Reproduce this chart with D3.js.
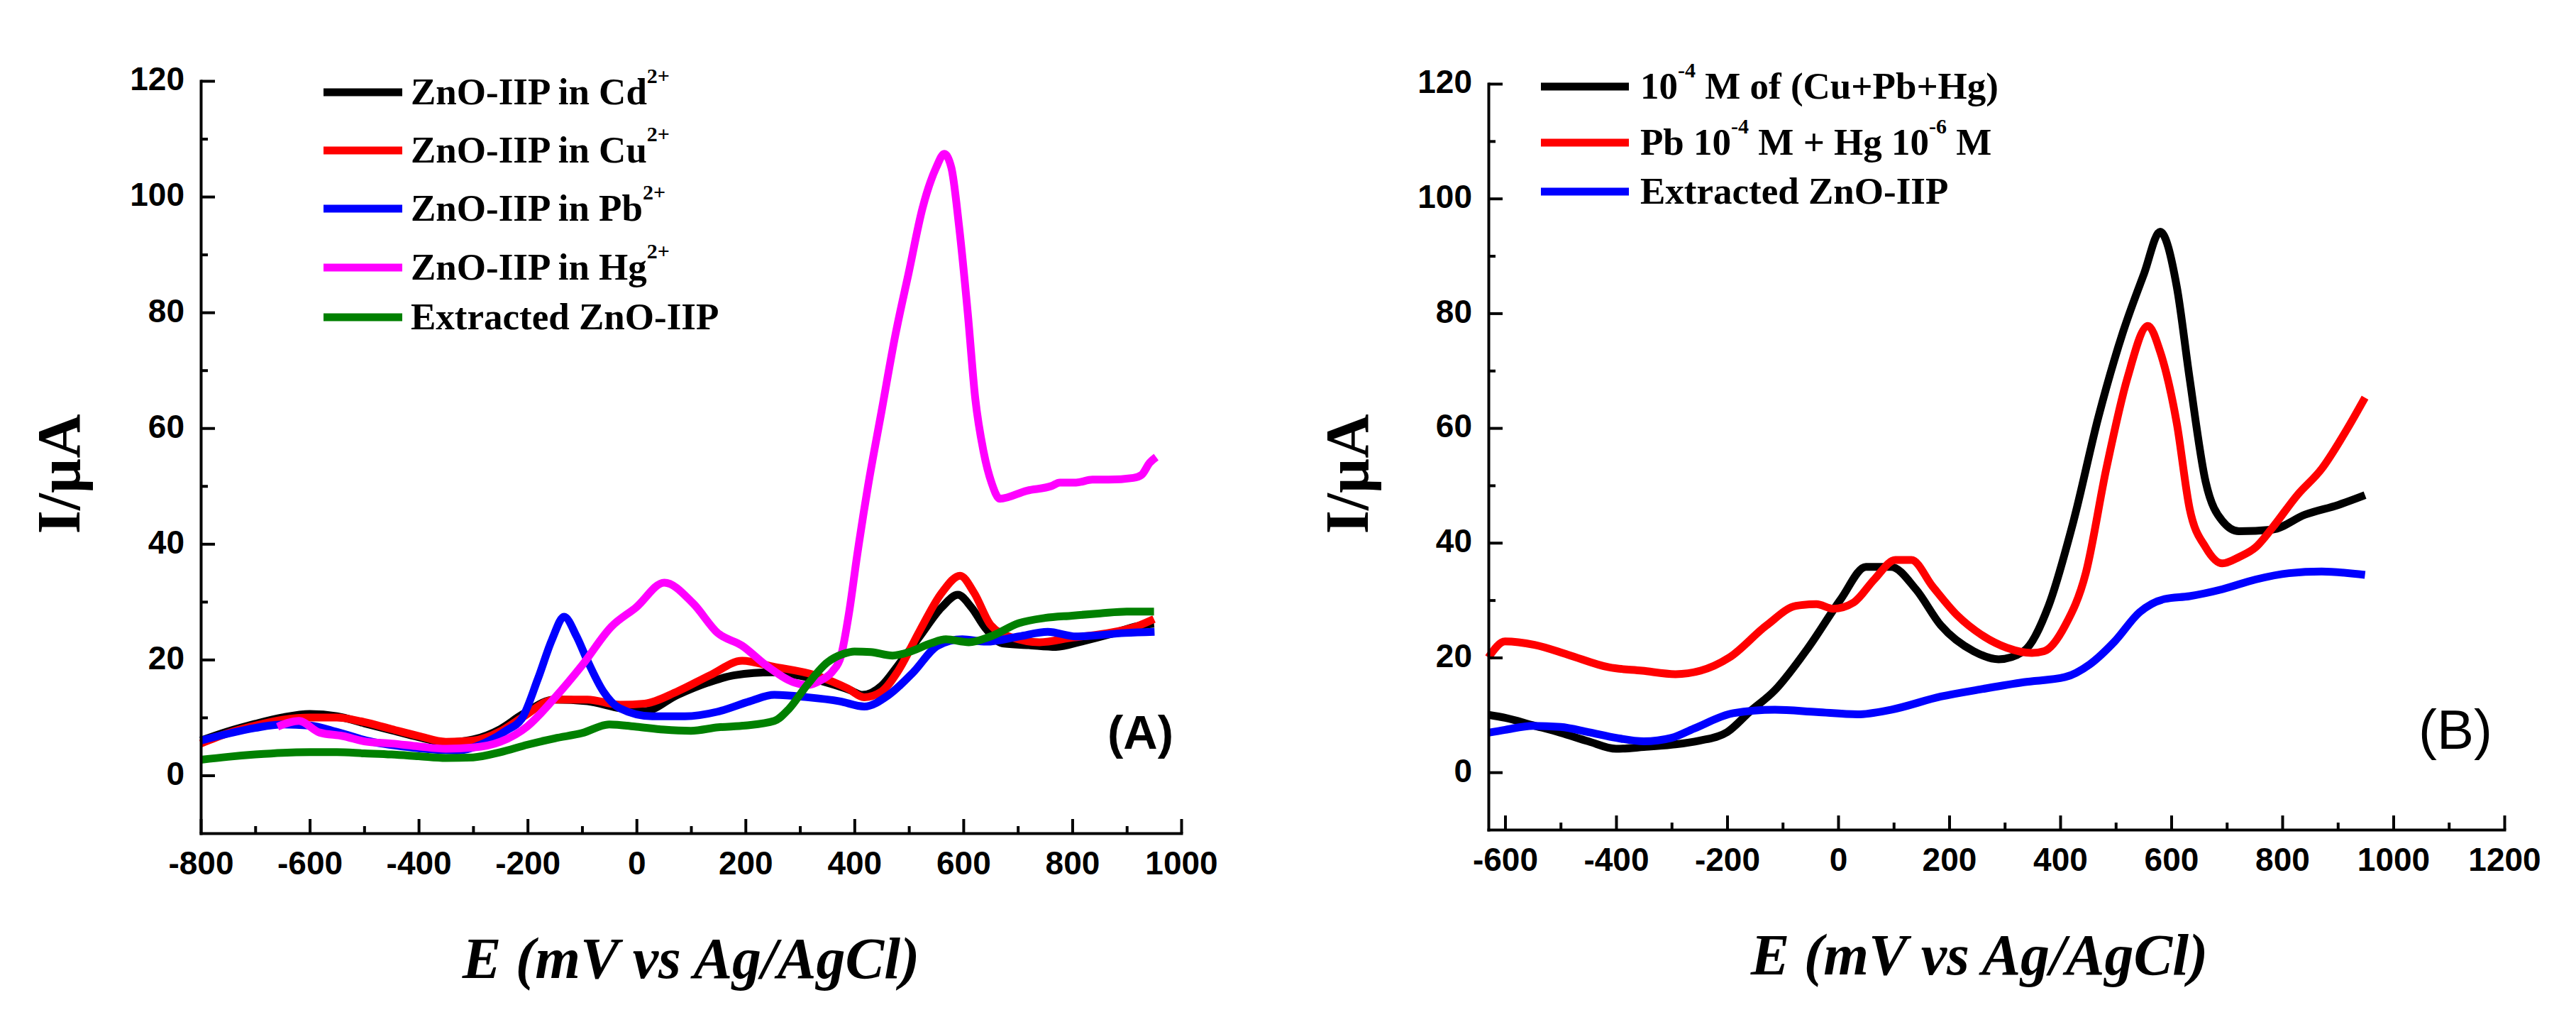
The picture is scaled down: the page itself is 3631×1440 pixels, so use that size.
<!DOCTYPE html>
<html>
<head>
<meta charset="utf-8">
<script src="https://cdn.jsdelivr.net/npm/d3@7"></script>
<style>
    body { margin: 0; background: #ffffff; }
    text { white-space: pre; }
</style>
</head>
<body>
<div id="chart"></div>
<script>
// values: [E (mV), I (uA)]
// panel A
const cdA = [[-800,6.0],[-750,7.6],[-700,8.9],[-650,10.0],[-600,10.6],[-550,10.2],[-500,9.0],[-450,7.8],[-400,6.6],[-350,5.7],[-300,6.2],[-250,8.0],[-210,10.5],[-150,13.1],[-90,12.8],[-30,11.6],[15,11.1],[75,13.9],[130,16.0],[180,17.3],[250,17.8],[300,17.2],[350,16.0],[390,14.8],[415,13.9],[450,15.5],[480,19.0],[520,24.0],[560,29.0],[590,31.2],[615,29.0],[640,25.5],[672,22.8],[720,22.5],[770,22.2],[820,23.2],[870,24.4],[920,25.8],[950,26.2]];
const cuA = [[-800,5.5],[-750,7.3],[-700,8.6],[-650,9.6],[-600,10.0],[-550,10.0],[-500,9.2],[-450,8.0],[-400,6.8],[-350,5.8],[-300,6.0],[-250,7.6],[-210,10.0],[-150,13.1],[-90,13.1],[-30,12.2],[15,12.4],[75,14.5],[135,17.3],[194,19.8],[250,18.8],[328,17.3],[388,15.0],[418,13.5],[450,14.5],[480,18.0],[520,25.0],[560,31.5],[594,34.5],[620,31.5],[650,26.0],[690,23.8],[740,23.0],[800,23.8],[860,24.5],[920,25.8],[950,27.0]];
const pbA = [[-800,6.0],[-750,7.2],[-700,8.2],[-650,8.8],[-600,8.6],[-550,7.5],[-495,6.0],[-420,4.9],[-330,4.3],[-270,6.0],[-240,7.7],[-210,9.9],[-181,16.7],[-155,23.5],[-133,27.4],[-110,24.0],[-91,20.0],[-61,14.5],[-31,11.6],[29,10.2],[89,10.2],[149,11.0],[208,12.8],[253,13.9],[313,13.5],[373,12.8],[418,11.9],[463,13.9],[508,17.8],[553,22.4],[598,23.5],[642,23.1],[702,24.0],[755,24.8],[807,24.0],[897,24.6],[951,24.8]];
const hgA = [[-659,8.4],[-620,9.4],[-582,7.4],[-540,6.8],[-495,5.8],[-450,5.5],[-400,5.0],[-350,4.6],[-300,4.8],[-250,5.8],[-200,8.5],[-151,13.3],[-100,19.0],[-46,25.7],[-1,29.0],[51,33.3],[104,29.7],[149,24.6],[194,22.4],[238,19.0],[291,16.0],[313,15.6],[340,16.5],[360,18.0],[375,20.5],[390,28],[405,38],[425,50],[450,63],[475,76],[500,87],[525,98],[550,105],[565,107.4],[578,105],[592,95],[608,80],[622,65],[637,56],[652,50.5],[667,47.8],[717,49.2],[762,50.0],[777,50.6],[807,50.6],[837,51.1],[867,51.1],[912,51.4],[927,51.9],[942,54.0],[954,55.0]];
const exA = [[-800,2.7],[-750,3.2],[-700,3.6],[-650,3.9],[-600,4.0],[-550,4.0],[-500,3.8],[-450,3.6],[-400,3.3],[-350,3.0],[-300,3.1],[-250,4.0],[-200,5.3],[-150,6.4],[-100,7.3],[-50,8.8],[0,8.4],[50,7.9],[100,7.7],[150,8.3],[200,8.6],[253,9.4],[280,11.5],[313,15.6],[350,19.5],[380,21.0],[400,21.4],[430,21.3],[470,20.7],[500,21.3],[540,22.8],[568,23.5],[610,23.0],[650,24.0],[702,26.3],[750,27.2],[800,27.6],[852,28.0],[900,28.3],[950,28.3]];

// panel B
const mixB = [[-630,10.0],[-600,9.5],[-550,8.2],[-500,6.9],[-450,5.4],[-400,4.1],[-350,4.4],[-300,4.8],[-250,5.5],[-200,7.0],[-160,10.5],[-114,14.3],[-54,21.7],[5,30.2],[50,35.8],[95,35.8],[140,31.9],[185,25.6],[244,21.1],[289,19.7],[334,21.1],[379,29.0],[424,43.8],[469,62.0],[513,76.7],[551,86.9],[580,94.2],[610,84.6],[633,68.7],[662,50.6],[692,43.8],[722,42.0],[782,42.3],[841,44.9],[901,46.6],[949,48.3]];
const pbhgB = [[-630,20.0],[-600,22.8],[-547,22.2],[-487,20.5],[-413,18.3],[-353,17.7],[-293,17.1],[-248,17.7],[-196,20.0],[-129,25.6],[-76,29.0],[-39,29.3],[-9,28.5],[28,29.6],[65,33.6],[103,37.0],[132,37.0],[170,32.4],[215,27.3],[259,23.9],[304,21.7],[349,20.8],[371,21.1],[409,25.6],[446,34.7],[483,52.9],[521,68.7],[558,77.8],[580,73.3],[610,60.8],[633,46.0],[662,39.2],[692,36.4],[722,37.5],[752,39.2],[782,42.6],[827,48.3],[871,52.9],[916,59.7],[949,65.3]];
const exB = [[-630,6.9],[-600,7.4],[-550,8.1],[-500,7.9],[-450,7.0],[-400,6.0],[-350,5.4],[-300,6.0],[-260,7.6],[-189,10.3],[-114,10.9],[-39,10.5],[35,10.1],[95,10.9],[185,13.2],[259,14.5],[334,15.7],[409,16.6],[453,18.8],[498,22.8],[543,27.9],[588,30.2],[633,30.7],[692,31.9],[752,33.6],[812,34.7],[871,35.0],[949,34.4]];

// legend labels (^{..} = superscript)
const labelsA = ["ZnO-IIP in Cd^{2+}", "ZnO-IIP in Cu^{2+}", "ZnO-IIP in Pb^{2+}", "ZnO-IIP in Hg^{2+}", "Extracted ZnO-IIP"];
const labelsB = ["10^{-4} M of (Cu+Pb+Hg)", "Pb 10^{-4} M + Hg 10^{-6} M", "Extracted ZnO-IIP"];

// ticks
const yMajor = [0, 20, 40, 60, 80, 100, 120];
const yMinor = [10, 30, 50, 70, 90, 110];
const xMajorA = [-800, -600, -400, -200, 0, 200, 400, 600, 800, 1000];
const xMinorA = [-700, -500, -300, -100, 100, 300, 500, 700, 900];
const xMajorB = [-600, -400, -200, 0, 200, 400, 600, 800, 1000, 1200];
const xMinorB = [-500, -300, -100, 100, 300, 500, 700, 900, 1100];

const sansFont = "'Liberation Sans', Arial, sans-serif";
const serifFont = "'Liberation Serif', 'Times New Roman', serif";

const W = 3631, H = 1440;
let svg = d3.select("#chart")
    .append("svg")
    .attr("width", W)
    .attr("height", H);
svg.append("rect").attr("width", W).attr("height", H).attr("fill", "#ffffff");

function addLabel(sel, label, supSize, rise) {
    //split "^{...}" pieces into tspans
    let parts = label.split(/(\^\{[^}]*\})/).filter(p => p.length > 0);
    let up = false;
    parts.forEach(function(p) {
        if (p.startsWith("^{")) {
            sel.append("tspan").attr("dy", -rise).attr("font-size", supSize).text(p.slice(2, -1));
            up = true;
        } else {
            sel.append("tspan").attr("dy", up ? rise : 0).text(p);
            up = false;
        }
    });
}

function panel(cfg) {
    let g = svg.append("g");
    let x = d3.scaleLinear().domain(cfg.xDomain).range([cfg.left, cfg.right]);
    let y = d3.scaleLinear().domain([-10, 120]).range([cfg.bottom, cfg.top]);

    let line = d3.line()
        .x(d => x(d[0]))
        .y(d => y(d[1]))
        .curve(d3.curveMonotoneX);

    cfg.series.forEach(function(s, i) {
        g.append("path")
            .datum(s)
            .attr("d", line)
            .attr("fill", "none")
            .attr("stroke", cfg.colors[i])
            .attr("stroke-width", 11)
            .attr("stroke-linejoin", "round");
    });

    //axes, ticks pointing inward
    g.append("g").attr("transform", `translate(0,${cfg.bottom})`)
        .call(d3.axisBottom(x).tickValues(cfg.xMajor).tickSize(-20).tickSizeOuter(0).tickPadding(25).tickFormat(d => String(d)));
    g.append("g").attr("transform", `translate(0,${cfg.bottom})`)
        .call(d3.axisBottom(x).tickValues(cfg.xMinor).tickSize(-10).tickSizeOuter(0).tickFormat(""))
        .select(".domain").remove();
    let gy = g.append("g").attr("transform", `translate(${cfg.left},0)`)
        .call(d3.axisLeft(y).tickValues(yMajor).tickSize(-20).tickSizeOuter(0).tickPadding(23).tickFormat(d => String(d)));
    g.append("g").attr("transform", `translate(${cfg.left},0)`)
        .call(d3.axisLeft(y).tickValues(yMinor).tickSize(-10).tickSizeOuter(0).tickFormat(""))
        .select(".domain").remove();

    g.selectAll(".domain").attr("stroke", "#000").attr("stroke-width", 4).attr("stroke-linecap", "square");
    g.selectAll(".tick line").attr("stroke", "#000").attr("stroke-width", 4);
    g.selectAll(".tick text")
        .attr("fill", "#000")
        .style("font-family", sansFont)
        .style("font-weight", "bold")
        .style("font-size", "46px");
    gy.selectAll(".tick text").attr("dy", "0.28em");

    //legend
    cfg.labels.forEach(function(lab, i) {
        let ly = cfg.legend.rows[i];
        g.append("line")
            .attr("x1", cfg.legend.x0).attr("x2", cfg.legend.x1)
            .attr("y1", ly).attr("y2", ly)
            .attr("stroke", cfg.colors[i])
            .attr("stroke-width", 11);
        let t = g.append("text")
            .attr("x", cfg.legend.tx)
            .attr("y", ly + 17)
            .attr("fill", "#000")
            .style("font-family", serifFont)
            .style("font-weight", "bold")
            .style("font-size", "53px");
        addLabel(t, lab, 30, 30);
    });

    //axis titles
    g.append("text")
        .attr("transform", `translate(${cfg.yTitle[0]},${cfg.yTitle[1]}) rotate(-90)`)
        .attr("text-anchor", "middle")
        .style("font-family", serifFont)
        .style("font-weight", "bold")
        .style("font-size", "86px")
        .text("I/\u00b5A");
    g.append("text")
        .attr("x", cfg.xTitle[0])
        .attr("y", cfg.xTitle[1])
        .attr("text-anchor", "middle")
        .style("font-family", serifFont)
        .style("font-weight", "bold")
        .style("font-style", "italic")
        .style("font-size", "82px")
        .text("E (mV vs Ag/AgCl)");

    //panel tag
    g.append("text")
        .attr("x", cfg.tag.x)
        .attr("y", cfg.tag.y)
        .attr("text-anchor", "end")
        .style("font-family", sansFont)
        .style("font-weight", cfg.tag.weight)
        .style("font-size", cfg.tag.size + "px")
        .text(cfg.tag.text);
}

panel({
    xDomain: [-800, 1000], left: 283, right: 1665, top: 114, bottom: 1174,
    xMajor: xMajorA, xMinor: xMinorA,
    series: [cdA, cuA, pbA, hgA, exA],
    colors: ["#000000", "#ff0000", "#0000ff", "#ff00ff", "#008000"],
    labels: labelsA,
    legend: {x0: 456, x1: 567, tx: 579, rows: [130, 212, 294, 377, 447]},
    yTitle: [112, 668],
    xTitle: [974, 1378],
    tag: {text: "(A)", x: 1654, y: 1055, size: 67, weight: "bold"}
});

panel({
    xDomain: [-630, 1200], left: 2098, right: 3530, top: 118, bottom: 1169,
    xMajor: xMajorB, xMinor: xMinorB,
    series: [mixB, pbhgB, exB],
    colors: ["#000000", "#ff0000", "#0000ff"],
    labels: labelsB,
    legend: {x0: 2172, x1: 2296, tx: 2312, rows: [122, 201, 270]},
    yTitle: [1928, 668],
    xTitle: [2790, 1373],
    tag: {text: "(B)", x: 3513, y: 1055, size: 78, weight: "normal"}
});
</script>
</body>
</html>
